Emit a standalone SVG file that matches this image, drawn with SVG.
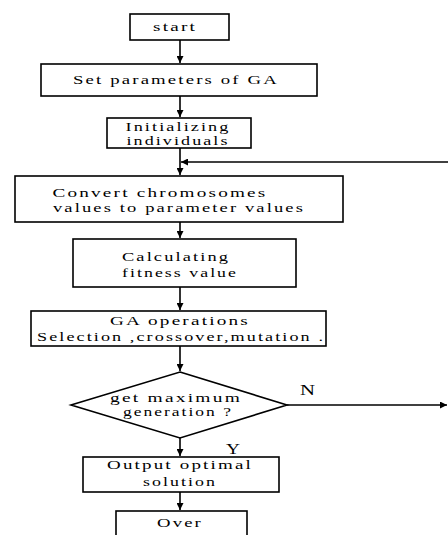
<svg xmlns="http://www.w3.org/2000/svg" width="448" height="535" viewBox="0 0 448 535">
<style>
.box{fill:#fff;stroke:#000;stroke-width:1.6}
.ln{stroke:#000;stroke-width:1.6;fill:none}
.tx{font-family:"Liberation Serif",serif;font-size:13px;fill:#000;text-anchor:middle;letter-spacing:1.5px}
.lb{font-family:"Liberation Serif",serif;font-size:14px;fill:#000}
</style>
<defs>
<marker id="ah" viewBox="0 0 10 10" refX="10" refY="5" markerWidth="7" markerHeight="7" markerUnits="userSpaceOnUse" orient="auto">
<path d="M0,0 L10,5 L0,10 z" fill="#000"/>
</marker>
</defs>
<rect width="448" height="535" fill="#fff"/>
<g id="connectors">
<line class="ln" x1="180" y1="40" x2="180" y2="63" marker-end="url(#ah)"/>
<line class="ln" x1="180" y1="96" x2="180" y2="117" marker-end="url(#ah)"/>
<line class="ln" x1="180" y1="148" x2="180" y2="175" marker-end="url(#ah)"/>
<line class="ln" x1="448" y1="162" x2="181" y2="162" marker-end="url(#ah)"/>
<line class="ln" x1="180" y1="222" x2="180" y2="238" marker-end="url(#ah)"/>
<line class="ln" x1="180" y1="287" x2="180" y2="310" marker-end="url(#ah)"/>
<line class="ln" x1="180" y1="346" x2="180" y2="371" marker-end="url(#ah)"/>
<line class="ln" x1="287" y1="405" x2="447" y2="405" stroke-width="1" marker-end="url(#ah)"/>
<line class="ln" x1="180" y1="438" x2="180" y2="456" marker-end="url(#ah)"/>
<line class="ln" x1="180" y1="492" x2="180" y2="510" marker-end="url(#ah)"/>
<text class="lb" x="300" y="395" textLength="15" lengthAdjust="spacingAndGlyphs">N</text>
<text class="lb" x="226" y="454" textLength="14" lengthAdjust="spacingAndGlyphs">Y</text>
</g>
<g id="start">
<rect class="box" x="130" y="14" width="99" height="26"/>
<text class="tx" x="175" y="31" textLength="44" lengthAdjust="spacingAndGlyphs">start</text>
</g>
<g id="setparams">
<rect class="box" x="41" y="64" width="276" height="32"/>
<text class="tx" x="176" y="84" textLength="206" lengthAdjust="spacingAndGlyphs">Set parameters of GA</text>
</g>
<g id="init">
<rect class="box" x="107" y="118" width="144" height="30"/>
<text class="tx" x="178" y="131" textLength="105" lengthAdjust="spacingAndGlyphs">Initializing</text>
<text class="tx" x="178" y="145" textLength="103" lengthAdjust="spacingAndGlyphs">individuals</text>
</g>
<g id="convert">
<rect class="box" x="15" y="176" width="328" height="46"/>
<text class="tx" x="160" y="197" textLength="215" lengthAdjust="spacingAndGlyphs">Convert chromosomes</text>
<text class="tx" x="179" y="212" textLength="252" lengthAdjust="spacingAndGlyphs">values to parameter values</text>
</g>
<g id="fitness">
<rect class="box" x="73" y="239" width="223" height="48"/>
<text class="tx" x="176" y="261" textLength="108" lengthAdjust="spacingAndGlyphs">Calculating</text>
<text class="tx" x="180" y="277" textLength="116" lengthAdjust="spacingAndGlyphs">fitness value</text>
</g>
<g id="gaops">
<rect class="box" x="31" y="311" width="295" height="35"/>
<text class="tx" x="180" y="325" textLength="140" lengthAdjust="spacingAndGlyphs">GA operations</text>
<text class="tx" x="181" y="341" textLength="288" lengthAdjust="spacingAndGlyphs">Selection ,crossover,mutation .</text>
</g>
<g id="decision">
<polygon class="box" points="180,372 287,405 180,438 71,405" stroke-width="1.2"/>
<text class="tx" x="176" y="402" textLength="132" lengthAdjust="spacingAndGlyphs">get maximum</text>
<text class="tx" x="178" y="416" textLength="110" lengthAdjust="spacingAndGlyphs">generation ?</text>
</g>
<g id="output">
<rect class="box" x="83" y="457" width="196" height="35"/>
<text class="tx" x="180" y="469" textLength="146" lengthAdjust="spacingAndGlyphs">Output optimal</text>
<text class="tx" x="180" y="486" textLength="74" lengthAdjust="spacingAndGlyphs">solution</text>
</g>
<g id="over">
<rect class="box" x="116" y="511" width="131" height="34"/>
<text class="tx" x="180" y="527" textLength="46" lengthAdjust="spacingAndGlyphs">Over</text>
</g>
</svg>
